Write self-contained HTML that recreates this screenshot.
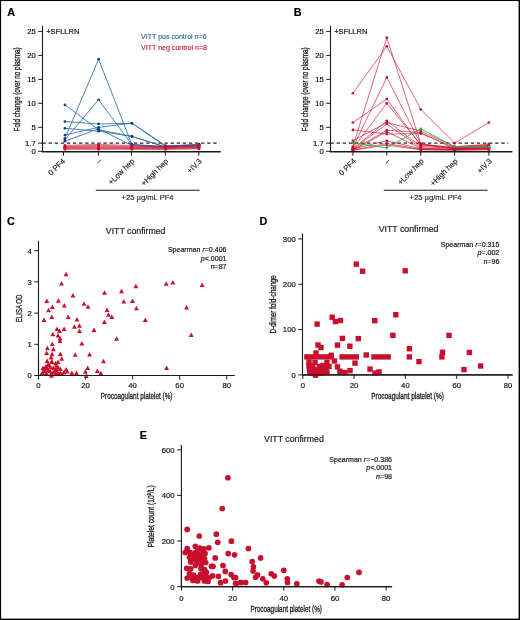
<!DOCTYPE html>
<html><head><meta charset="utf-8"><style>
html,body{margin:0;padding:0;background:#fff;width:520px;height:620px;overflow:hidden}
svg{display:block;font-family:"Liberation Sans", sans-serif;will-change:transform}
</style></head><body>
<svg width="520" height="620" viewBox="0 0 520 620">
<rect x="0" y="0" width="520" height="620" fill="#fff"/>
<text x="7.30" y="15.50" font-size="10.8" fill="#000" stroke="#000" stroke-width="0.2" font-weight="bold">A</text>
<line x1="42.50" y1="25.60" x2="42.50" y2="151.80" stroke="#1a1a1a" stroke-width="1.1"/>
<line x1="38.20" y1="151.30" x2="42.50" y2="151.30" stroke="#1a1a1a" stroke-width="1"/>
<text x="35.80" y="154.20" font-size="7.7" fill="#1a1a1a" stroke="#1a1a1a" stroke-width="0.22" text-anchor="end">0</text>
<line x1="38.20" y1="143.15" x2="42.50" y2="143.15" stroke="#1a1a1a" stroke-width="1"/>
<text x="35.80" y="146.05" font-size="7.7" fill="#1a1a1a" stroke="#1a1a1a" stroke-width="0.22" text-anchor="end">1.7</text>
<line x1="38.20" y1="127.32" x2="42.50" y2="127.32" stroke="#1a1a1a" stroke-width="1"/>
<text x="35.80" y="130.22" font-size="7.7" fill="#1a1a1a" stroke="#1a1a1a" stroke-width="0.22" text-anchor="end">5</text>
<line x1="38.20" y1="103.34" x2="42.50" y2="103.34" stroke="#1a1a1a" stroke-width="1"/>
<text x="35.80" y="106.24" font-size="7.7" fill="#1a1a1a" stroke="#1a1a1a" stroke-width="0.22" text-anchor="end">10</text>
<line x1="38.20" y1="79.36" x2="42.50" y2="79.36" stroke="#1a1a1a" stroke-width="1"/>
<text x="35.80" y="82.26" font-size="7.7" fill="#1a1a1a" stroke="#1a1a1a" stroke-width="0.22" text-anchor="end">15</text>
<line x1="38.20" y1="55.38" x2="42.50" y2="55.38" stroke="#1a1a1a" stroke-width="1"/>
<text x="35.80" y="58.28" font-size="7.7" fill="#1a1a1a" stroke="#1a1a1a" stroke-width="0.22" text-anchor="end">20</text>
<line x1="38.20" y1="31.40" x2="42.50" y2="31.40" stroke="#1a1a1a" stroke-width="1"/>
<text x="35.80" y="34.30" font-size="7.7" fill="#1a1a1a" stroke="#1a1a1a" stroke-width="0.22" text-anchor="end">25</text>
<text x="20.50" y="89.40" font-size="9.4" fill="#1a1a1a" stroke="#1a1a1a" stroke-width="0.32" text-anchor="middle" textLength="84" lengthAdjust="spacingAndGlyphs" transform="rotate(-90 20.50 89.40)">Fold change (over no plasma)</text>
<text x="46.20" y="33.50" font-size="7.5" fill="#1a1a1a" stroke="#1a1a1a" stroke-width="0.22">+SFLLRN</text>
<line x1="42.50" y1="143.20" x2="219.60" y2="143.20" stroke="#222" stroke-width="1.2" stroke-dasharray="3.3 2.8"/>
<polyline points="64.90,104.78 98.60,129.72 131.90,136.43 165.50,146.98 199.00,146.50" fill="none" stroke="#2f6ea8" stroke-width="0.85" stroke-opacity="1"/>
<polyline points="64.90,121.56 98.60,123.96 131.90,123.24 165.50,145.54 199.00,145.07" fill="none" stroke="#2f6ea8" stroke-width="0.85" stroke-opacity="1"/>
<polyline points="64.90,128.28 98.60,131.16 131.90,136.43 165.50,146.98 199.00,145.54" fill="none" stroke="#2f6ea8" stroke-width="0.85" stroke-opacity="1"/>
<polyline points="64.90,134.99 98.60,127.32 131.90,123.24 165.50,146.50 199.00,144.59" fill="none" stroke="#2f6ea8" stroke-width="0.85" stroke-opacity="1"/>
<polyline points="64.90,138.35 98.60,59.22 131.90,144.59 165.50,146.98 199.00,145.07" fill="none" stroke="#2f6ea8" stroke-width="0.85" stroke-opacity="1"/>
<polyline points="64.90,139.79 98.60,99.74 131.90,144.59 165.50,146.50 199.00,144.11" fill="none" stroke="#2f6ea8" stroke-width="0.85" stroke-opacity="1"/>
<polyline points="64.90,141.23 98.60,128.76 131.90,145.54 165.50,147.46 199.00,145.54" fill="none" stroke="#2f6ea8" stroke-width="0.85" stroke-opacity="1"/>
<polyline points="64.90,145.31 98.60,144.35 131.90,145.54 165.50,146.02 199.00,145.31" fill="none" stroke="#c8102e" stroke-width="1.0" stroke-opacity="0.55"/>
<polyline points="64.90,146.26 98.60,145.31 131.90,146.26 165.50,146.74 199.00,146.02" fill="none" stroke="#c8102e" stroke-width="1.0" stroke-opacity="0.55"/>
<polyline points="64.90,146.74 98.60,146.02 131.90,146.98 165.50,147.22 199.00,146.50" fill="none" stroke="#c8102e" stroke-width="1.0" stroke-opacity="0.55"/>
<polyline points="64.90,147.22 98.60,146.74 131.90,147.46 165.50,147.70 199.00,146.98" fill="none" stroke="#c8102e" stroke-width="1.0" stroke-opacity="0.55"/>
<polyline points="64.90,147.94 98.60,147.46 131.90,147.94 165.50,148.18 199.00,147.46" fill="none" stroke="#c8102e" stroke-width="1.0" stroke-opacity="0.55"/>
<polyline points="64.90,148.42 98.60,148.18 131.90,148.42 165.50,148.66 199.00,147.94" fill="none" stroke="#c8102e" stroke-width="1.0" stroke-opacity="0.55"/>
<polyline points="64.90,148.90 98.60,148.90 131.90,148.90 165.50,149.14 199.00,148.42" fill="none" stroke="#c8102e" stroke-width="1.0" stroke-opacity="0.55"/>
<polyline points="64.90,149.14 98.60,149.29 131.90,149.14 165.50,149.29 199.00,148.90" fill="none" stroke="#c8102e" stroke-width="1.0" stroke-opacity="0.55"/>
<circle cx="64.90" cy="104.78" r="1.35" fill="#0d3f7d"/>
<circle cx="98.60" cy="129.72" r="1.35" fill="#0d3f7d"/>
<circle cx="131.90" cy="136.43" r="1.35" fill="#0d3f7d"/>
<circle cx="165.50" cy="146.98" r="1.35" fill="#0d3f7d"/>
<circle cx="199.00" cy="146.50" r="1.35" fill="#0d3f7d"/>
<circle cx="64.90" cy="121.56" r="1.35" fill="#0d3f7d"/>
<circle cx="98.60" cy="123.96" r="1.35" fill="#0d3f7d"/>
<circle cx="131.90" cy="123.24" r="1.35" fill="#0d3f7d"/>
<circle cx="165.50" cy="145.54" r="1.35" fill="#0d3f7d"/>
<circle cx="199.00" cy="145.07" r="1.35" fill="#0d3f7d"/>
<circle cx="64.90" cy="128.28" r="1.35" fill="#0d3f7d"/>
<circle cx="98.60" cy="131.16" r="1.35" fill="#0d3f7d"/>
<circle cx="131.90" cy="136.43" r="1.35" fill="#0d3f7d"/>
<circle cx="165.50" cy="146.98" r="1.35" fill="#0d3f7d"/>
<circle cx="199.00" cy="145.54" r="1.35" fill="#0d3f7d"/>
<circle cx="64.90" cy="134.99" r="1.35" fill="#0d3f7d"/>
<circle cx="98.60" cy="127.32" r="1.35" fill="#0d3f7d"/>
<circle cx="131.90" cy="123.24" r="1.35" fill="#0d3f7d"/>
<circle cx="165.50" cy="146.50" r="1.35" fill="#0d3f7d"/>
<circle cx="199.00" cy="144.59" r="1.35" fill="#0d3f7d"/>
<circle cx="64.90" cy="138.35" r="1.35" fill="#0d3f7d"/>
<circle cx="98.60" cy="59.22" r="1.35" fill="#0d3f7d"/>
<circle cx="131.90" cy="144.59" r="1.35" fill="#0d3f7d"/>
<circle cx="165.50" cy="146.98" r="1.35" fill="#0d3f7d"/>
<circle cx="199.00" cy="145.07" r="1.35" fill="#0d3f7d"/>
<circle cx="64.90" cy="139.79" r="1.35" fill="#0d3f7d"/>
<circle cx="98.60" cy="99.74" r="1.35" fill="#0d3f7d"/>
<circle cx="131.90" cy="144.59" r="1.35" fill="#0d3f7d"/>
<circle cx="165.50" cy="146.50" r="1.35" fill="#0d3f7d"/>
<circle cx="199.00" cy="144.11" r="1.35" fill="#0d3f7d"/>
<circle cx="64.90" cy="141.23" r="1.35" fill="#0d3f7d"/>
<circle cx="98.60" cy="128.76" r="1.35" fill="#0d3f7d"/>
<circle cx="131.90" cy="145.54" r="1.35" fill="#0d3f7d"/>
<circle cx="165.50" cy="147.46" r="1.35" fill="#0d3f7d"/>
<circle cx="199.00" cy="145.54" r="1.35" fill="#0d3f7d"/>
<circle cx="64.90" cy="145.31" r="1.35" fill="#c8102e"/>
<circle cx="98.60" cy="144.35" r="1.35" fill="#c8102e"/>
<circle cx="131.90" cy="145.54" r="1.35" fill="#c8102e"/>
<circle cx="165.50" cy="146.02" r="1.35" fill="#c8102e"/>
<circle cx="199.00" cy="145.31" r="1.35" fill="#c8102e"/>
<circle cx="64.90" cy="146.26" r="1.35" fill="#c8102e"/>
<circle cx="98.60" cy="145.31" r="1.35" fill="#c8102e"/>
<circle cx="131.90" cy="146.26" r="1.35" fill="#c8102e"/>
<circle cx="165.50" cy="146.74" r="1.35" fill="#c8102e"/>
<circle cx="199.00" cy="146.02" r="1.35" fill="#c8102e"/>
<circle cx="64.90" cy="146.74" r="1.35" fill="#c8102e"/>
<circle cx="98.60" cy="146.02" r="1.35" fill="#c8102e"/>
<circle cx="131.90" cy="146.98" r="1.35" fill="#c8102e"/>
<circle cx="165.50" cy="147.22" r="1.35" fill="#c8102e"/>
<circle cx="199.00" cy="146.50" r="1.35" fill="#c8102e"/>
<circle cx="64.90" cy="147.22" r="1.35" fill="#c8102e"/>
<circle cx="98.60" cy="146.74" r="1.35" fill="#c8102e"/>
<circle cx="131.90" cy="147.46" r="1.35" fill="#c8102e"/>
<circle cx="165.50" cy="147.70" r="1.35" fill="#c8102e"/>
<circle cx="199.00" cy="146.98" r="1.35" fill="#c8102e"/>
<circle cx="64.90" cy="147.94" r="1.35" fill="#c8102e"/>
<circle cx="98.60" cy="147.46" r="1.35" fill="#c8102e"/>
<circle cx="131.90" cy="147.94" r="1.35" fill="#c8102e"/>
<circle cx="165.50" cy="148.18" r="1.35" fill="#c8102e"/>
<circle cx="199.00" cy="147.46" r="1.35" fill="#c8102e"/>
<circle cx="64.90" cy="148.42" r="1.35" fill="#c8102e"/>
<circle cx="98.60" cy="148.18" r="1.35" fill="#c8102e"/>
<circle cx="131.90" cy="148.42" r="1.35" fill="#c8102e"/>
<circle cx="165.50" cy="148.66" r="1.35" fill="#c8102e"/>
<circle cx="199.00" cy="147.94" r="1.35" fill="#c8102e"/>
<circle cx="64.90" cy="148.90" r="1.35" fill="#c8102e"/>
<circle cx="98.60" cy="148.90" r="1.35" fill="#c8102e"/>
<circle cx="131.90" cy="148.90" r="1.35" fill="#c8102e"/>
<circle cx="165.50" cy="149.14" r="1.35" fill="#c8102e"/>
<circle cx="199.00" cy="148.42" r="1.35" fill="#c8102e"/>
<circle cx="64.90" cy="149.14" r="1.35" fill="#c8102e"/>
<circle cx="98.60" cy="149.29" r="1.35" fill="#c8102e"/>
<circle cx="131.90" cy="149.14" r="1.35" fill="#c8102e"/>
<circle cx="165.50" cy="149.29" r="1.35" fill="#c8102e"/>
<circle cx="199.00" cy="148.90" r="1.35" fill="#c8102e"/>
<line x1="42.00" y1="151.80" x2="220.80" y2="151.80" stroke="#1a1a1a" stroke-width="1.5"/>
<line x1="63.50" y1="151.30" x2="63.50" y2="155.70" stroke="#1a1a1a" stroke-width="1"/>
<line x1="98.40" y1="151.30" x2="98.40" y2="155.70" stroke="#1a1a1a" stroke-width="1"/>
<line x1="131.50" y1="151.30" x2="131.50" y2="155.70" stroke="#1a1a1a" stroke-width="1"/>
<line x1="165.30" y1="151.30" x2="165.30" y2="155.70" stroke="#1a1a1a" stroke-width="1"/>
<line x1="198.80" y1="151.30" x2="198.80" y2="155.70" stroke="#1a1a1a" stroke-width="1"/>
<text x="65.70" y="161.60" font-size="7.7" fill="#1a1a1a" stroke="#1a1a1a" stroke-width="0.15" text-anchor="end" transform="rotate(-45 65.70 161.60)">0 PF4</text>
<text x="102.00" y="161.60" font-size="7.7" fill="#1a1a1a" stroke="#1a1a1a" stroke-width="0.15" text-anchor="end" transform="rotate(-45 102.00 161.60)">–</text>
<text x="135.10" y="161.60" font-size="7.7" fill="#1a1a1a" stroke="#1a1a1a" stroke-width="0.15" text-anchor="end" transform="rotate(-45 135.10 161.60)">+Low hep</text>
<text x="168.90" y="161.60" font-size="7.7" fill="#1a1a1a" stroke="#1a1a1a" stroke-width="0.15" text-anchor="end" transform="rotate(-45 168.90 161.60)">+High hep</text>
<text x="202.40" y="161.60" font-size="7.7" fill="#1a1a1a" stroke="#1a1a1a" stroke-width="0.15" text-anchor="end" transform="rotate(-45 202.40 161.60)">+IV.3</text>
<line x1="95.80" y1="190.30" x2="199.60" y2="190.30" stroke="#1a1a1a" stroke-width="1.1"/>
<text x="147.60" y="200.00" font-size="7.6" fill="#1a1a1a" stroke="#1a1a1a" stroke-width="0.12" text-anchor="middle">+25 µg/mL PF4</text>
<text x="141.10" y="38.60" font-size="7.05" fill="#2a5f95" stroke="#2a5f95" stroke-width="0.12">VITT pos control n=6</text>
<text x="141.10" y="50.00" font-size="7.05" fill="#c8102e" stroke="#c8102e" stroke-width="0.12">VITT neg control n=8</text>
<text x="293.70" y="15.50" font-size="10.8" fill="#000" stroke="#000" stroke-width="0.2" font-weight="bold">B</text>
<line x1="330.50" y1="25.60" x2="330.50" y2="151.80" stroke="#1a1a1a" stroke-width="1.1"/>
<line x1="326.20" y1="151.30" x2="330.50" y2="151.30" stroke="#1a1a1a" stroke-width="1"/>
<text x="323.80" y="154.20" font-size="7.7" fill="#1a1a1a" stroke="#1a1a1a" stroke-width="0.22" text-anchor="end">0</text>
<line x1="326.20" y1="143.15" x2="330.50" y2="143.15" stroke="#1a1a1a" stroke-width="1"/>
<text x="323.80" y="146.05" font-size="7.7" fill="#1a1a1a" stroke="#1a1a1a" stroke-width="0.22" text-anchor="end">1.7</text>
<line x1="326.20" y1="127.32" x2="330.50" y2="127.32" stroke="#1a1a1a" stroke-width="1"/>
<text x="323.80" y="130.22" font-size="7.7" fill="#1a1a1a" stroke="#1a1a1a" stroke-width="0.22" text-anchor="end">5</text>
<line x1="326.20" y1="103.34" x2="330.50" y2="103.34" stroke="#1a1a1a" stroke-width="1"/>
<text x="323.80" y="106.24" font-size="7.7" fill="#1a1a1a" stroke="#1a1a1a" stroke-width="0.22" text-anchor="end">10</text>
<line x1="326.20" y1="79.36" x2="330.50" y2="79.36" stroke="#1a1a1a" stroke-width="1"/>
<text x="323.80" y="82.26" font-size="7.7" fill="#1a1a1a" stroke="#1a1a1a" stroke-width="0.22" text-anchor="end">15</text>
<line x1="326.20" y1="55.38" x2="330.50" y2="55.38" stroke="#1a1a1a" stroke-width="1"/>
<text x="323.80" y="58.28" font-size="7.7" fill="#1a1a1a" stroke="#1a1a1a" stroke-width="0.22" text-anchor="end">20</text>
<line x1="326.20" y1="31.40" x2="330.50" y2="31.40" stroke="#1a1a1a" stroke-width="1"/>
<text x="323.80" y="34.30" font-size="7.7" fill="#1a1a1a" stroke="#1a1a1a" stroke-width="0.22" text-anchor="end">25</text>
<text x="308.50" y="89.40" font-size="9.4" fill="#1a1a1a" stroke="#1a1a1a" stroke-width="0.32" text-anchor="middle" textLength="84" lengthAdjust="spacingAndGlyphs" transform="rotate(-90 308.50 89.40)">Fold change (over no plasma)</text>
<text x="334.20" y="33.50" font-size="7.5" fill="#1a1a1a" stroke="#1a1a1a" stroke-width="0.22">+SFLLRN</text>
<line x1="330.50" y1="143.20" x2="508.30" y2="143.20" stroke="#222" stroke-width="1.2" stroke-dasharray="3.3 2.8"/>
<polyline points="352.90,93.27 386.80,46.27 420.80,109.34 454.60,143.15 488.90,122.52" fill="none" stroke="#c8102e" stroke-width="0.8" stroke-opacity="0.8"/>
<polyline points="352.90,122.52 386.80,99.02 420.80,145.54 454.60,146.98 488.90,144.11" fill="none" stroke="#c8102e" stroke-width="0.8" stroke-opacity="0.8"/>
<polyline points="352.90,129.96 386.80,134.03 420.80,133.55 454.60,147.46 488.90,145.54" fill="none" stroke="#c8102e" stroke-width="0.8" stroke-opacity="0.8"/>
<polyline points="352.90,140.75 386.80,122.52 420.80,131.16 454.60,146.50 488.90,145.07" fill="none" stroke="#c8102e" stroke-width="0.8" stroke-opacity="0.8"/>
<polyline points="352.90,146.50 386.80,37.63 420.80,143.63 454.60,148.42 488.90,146.50" fill="none" stroke="#c8102e" stroke-width="0.8" stroke-opacity="0.8"/>
<polyline points="352.90,147.46 386.80,77.44 420.80,144.11 454.60,147.94 488.90,146.98" fill="none" stroke="#c8102e" stroke-width="0.8" stroke-opacity="0.8"/>
<polyline points="352.90,148.42 386.80,103.34 420.80,144.59 454.60,148.90 488.90,147.46" fill="none" stroke="#c8102e" stroke-width="0.8" stroke-opacity="0.8"/>
<polyline points="352.90,148.90 386.80,120.85 420.80,146.50 454.60,148.42 488.90,147.94" fill="none" stroke="#c8102e" stroke-width="0.8" stroke-opacity="0.8"/>
<polyline points="352.90,149.38 386.80,123.96 420.80,147.94 454.60,149.38 488.90,146.02" fill="none" stroke="#c8102e" stroke-width="0.8" stroke-opacity="0.8"/>
<polyline points="352.90,149.86 386.80,130.20 420.80,132.60 454.60,148.90 488.90,148.42" fill="none" stroke="#c8102e" stroke-width="0.8" stroke-opacity="0.8"/>
<polyline points="352.90,150.34 386.80,131.64 420.80,148.42 454.60,149.86 488.90,148.90" fill="none" stroke="#c8102e" stroke-width="0.8" stroke-opacity="0.8"/>
<polyline points="352.90,148.90 386.80,140.75 420.80,148.90 454.60,149.38 488.90,148.42" fill="none" stroke="#c8102e" stroke-width="0.8" stroke-opacity="0.8"/>
<polyline points="352.90,149.86 386.80,143.63 420.80,149.38 454.60,149.86 488.90,149.38" fill="none" stroke="#c8102e" stroke-width="0.8" stroke-opacity="0.8"/>
<polyline points="352.90,150.34 386.80,145.07 420.80,149.86 454.60,150.34 488.90,149.86" fill="none" stroke="#c8102e" stroke-width="0.8" stroke-opacity="0.8"/>
<polyline points="352.90,142.81 386.80,147.94 420.80,128.76 454.60,146.74 488.90,147.22" fill="none" stroke="#22b04a" stroke-width="0.9" stroke-opacity="1"/>
<circle cx="352.90" cy="93.27" r="1.35" fill="#c8102e"/>
<circle cx="386.80" cy="46.27" r="1.35" fill="#c8102e"/>
<circle cx="420.80" cy="109.34" r="1.35" fill="#c8102e"/>
<circle cx="454.60" cy="143.15" r="1.35" fill="#c8102e"/>
<circle cx="488.90" cy="122.52" r="1.35" fill="#c8102e"/>
<circle cx="352.90" cy="122.52" r="1.35" fill="#c8102e"/>
<circle cx="386.80" cy="99.02" r="1.35" fill="#c8102e"/>
<circle cx="420.80" cy="145.54" r="1.35" fill="#c8102e"/>
<circle cx="454.60" cy="146.98" r="1.35" fill="#c8102e"/>
<circle cx="488.90" cy="144.11" r="1.35" fill="#c8102e"/>
<circle cx="352.90" cy="129.96" r="1.35" fill="#c8102e"/>
<circle cx="386.80" cy="134.03" r="1.35" fill="#c8102e"/>
<circle cx="420.80" cy="133.55" r="1.35" fill="#c8102e"/>
<circle cx="454.60" cy="147.46" r="1.35" fill="#c8102e"/>
<circle cx="488.90" cy="145.54" r="1.35" fill="#c8102e"/>
<circle cx="352.90" cy="140.75" r="1.35" fill="#c8102e"/>
<circle cx="386.80" cy="122.52" r="1.35" fill="#c8102e"/>
<circle cx="420.80" cy="131.16" r="1.35" fill="#c8102e"/>
<circle cx="454.60" cy="146.50" r="1.35" fill="#c8102e"/>
<circle cx="488.90" cy="145.07" r="1.35" fill="#c8102e"/>
<circle cx="352.90" cy="146.50" r="1.35" fill="#c8102e"/>
<circle cx="386.80" cy="37.63" r="1.35" fill="#c8102e"/>
<circle cx="420.80" cy="143.63" r="1.35" fill="#c8102e"/>
<circle cx="454.60" cy="148.42" r="1.35" fill="#c8102e"/>
<circle cx="488.90" cy="146.50" r="1.35" fill="#c8102e"/>
<circle cx="352.90" cy="147.46" r="1.35" fill="#c8102e"/>
<circle cx="386.80" cy="77.44" r="1.35" fill="#c8102e"/>
<circle cx="420.80" cy="144.11" r="1.35" fill="#c8102e"/>
<circle cx="454.60" cy="147.94" r="1.35" fill="#c8102e"/>
<circle cx="488.90" cy="146.98" r="1.35" fill="#c8102e"/>
<circle cx="352.90" cy="148.42" r="1.35" fill="#c8102e"/>
<circle cx="386.80" cy="103.34" r="1.35" fill="#c8102e"/>
<circle cx="420.80" cy="144.59" r="1.35" fill="#c8102e"/>
<circle cx="454.60" cy="148.90" r="1.35" fill="#c8102e"/>
<circle cx="488.90" cy="147.46" r="1.35" fill="#c8102e"/>
<circle cx="352.90" cy="148.90" r="1.35" fill="#c8102e"/>
<circle cx="386.80" cy="120.85" r="1.35" fill="#c8102e"/>
<circle cx="420.80" cy="146.50" r="1.35" fill="#c8102e"/>
<circle cx="454.60" cy="148.42" r="1.35" fill="#c8102e"/>
<circle cx="488.90" cy="147.94" r="1.35" fill="#c8102e"/>
<circle cx="352.90" cy="149.38" r="1.35" fill="#c8102e"/>
<circle cx="386.80" cy="123.96" r="1.35" fill="#c8102e"/>
<circle cx="420.80" cy="147.94" r="1.35" fill="#c8102e"/>
<circle cx="454.60" cy="149.38" r="1.35" fill="#c8102e"/>
<circle cx="488.90" cy="146.02" r="1.35" fill="#c8102e"/>
<circle cx="352.90" cy="149.86" r="1.35" fill="#c8102e"/>
<circle cx="386.80" cy="130.20" r="1.35" fill="#c8102e"/>
<circle cx="420.80" cy="132.60" r="1.35" fill="#c8102e"/>
<circle cx="454.60" cy="148.90" r="1.35" fill="#c8102e"/>
<circle cx="488.90" cy="148.42" r="1.35" fill="#c8102e"/>
<circle cx="352.90" cy="150.34" r="1.35" fill="#c8102e"/>
<circle cx="386.80" cy="131.64" r="1.35" fill="#c8102e"/>
<circle cx="420.80" cy="148.42" r="1.35" fill="#c8102e"/>
<circle cx="454.60" cy="149.86" r="1.35" fill="#c8102e"/>
<circle cx="488.90" cy="148.90" r="1.35" fill="#c8102e"/>
<circle cx="352.90" cy="148.90" r="1.35" fill="#c8102e"/>
<circle cx="386.80" cy="140.75" r="1.35" fill="#c8102e"/>
<circle cx="420.80" cy="148.90" r="1.35" fill="#c8102e"/>
<circle cx="454.60" cy="149.38" r="1.35" fill="#c8102e"/>
<circle cx="488.90" cy="148.42" r="1.35" fill="#c8102e"/>
<circle cx="352.90" cy="149.86" r="1.35" fill="#c8102e"/>
<circle cx="386.80" cy="143.63" r="1.35" fill="#c8102e"/>
<circle cx="420.80" cy="149.38" r="1.35" fill="#c8102e"/>
<circle cx="454.60" cy="149.86" r="1.35" fill="#c8102e"/>
<circle cx="488.90" cy="149.38" r="1.35" fill="#c8102e"/>
<circle cx="352.90" cy="150.34" r="1.35" fill="#c8102e"/>
<circle cx="386.80" cy="145.07" r="1.35" fill="#c8102e"/>
<circle cx="420.80" cy="149.86" r="1.35" fill="#c8102e"/>
<circle cx="454.60" cy="150.34" r="1.35" fill="#c8102e"/>
<circle cx="488.90" cy="149.86" r="1.35" fill="#c8102e"/>
<circle cx="352.90" cy="142.81" r="1.35" fill="#22b04a"/>
<circle cx="386.80" cy="147.94" r="1.35" fill="#22b04a"/>
<circle cx="420.80" cy="128.76" r="1.35" fill="#22b04a"/>
<circle cx="454.60" cy="146.74" r="1.35" fill="#22b04a"/>
<circle cx="488.90" cy="147.22" r="1.35" fill="#22b04a"/>
<line x1="330.00" y1="151.80" x2="512.40" y2="151.80" stroke="#1a1a1a" stroke-width="1.5"/>
<line x1="352.90" y1="151.30" x2="352.90" y2="155.70" stroke="#1a1a1a" stroke-width="1"/>
<line x1="386.80" y1="151.30" x2="386.80" y2="155.70" stroke="#1a1a1a" stroke-width="1"/>
<line x1="420.80" y1="151.30" x2="420.80" y2="155.70" stroke="#1a1a1a" stroke-width="1"/>
<line x1="454.60" y1="151.30" x2="454.60" y2="155.70" stroke="#1a1a1a" stroke-width="1"/>
<line x1="488.90" y1="151.30" x2="488.90" y2="155.70" stroke="#1a1a1a" stroke-width="1"/>
<text x="356.50" y="161.60" font-size="7.7" fill="#1a1a1a" stroke="#1a1a1a" stroke-width="0.15" text-anchor="end" transform="rotate(-45 356.50 161.60)">0 PF4</text>
<text x="390.40" y="161.60" font-size="7.7" fill="#1a1a1a" stroke="#1a1a1a" stroke-width="0.15" text-anchor="end" transform="rotate(-45 390.40 161.60)">–</text>
<text x="424.40" y="161.60" font-size="7.7" fill="#1a1a1a" stroke="#1a1a1a" stroke-width="0.15" text-anchor="end" transform="rotate(-45 424.40 161.60)">+Low hep</text>
<text x="458.20" y="161.60" font-size="7.7" fill="#1a1a1a" stroke="#1a1a1a" stroke-width="0.15" text-anchor="end" transform="rotate(-45 458.20 161.60)">+High hep</text>
<text x="492.50" y="161.60" font-size="7.7" fill="#1a1a1a" stroke="#1a1a1a" stroke-width="0.15" text-anchor="end" transform="rotate(-45 492.50 161.60)">+IV.3</text>
<line x1="383.80" y1="190.30" x2="487.60" y2="190.30" stroke="#1a1a1a" stroke-width="1.1"/>
<text x="435.60" y="200.00" font-size="7.6" fill="#1a1a1a" stroke="#1a1a1a" stroke-width="0.12" text-anchor="middle">+25 µg/mL PF4</text>
<text x="6.90" y="224.90" font-size="10.8" fill="#000" stroke="#000" stroke-width="0.2" font-weight="bold">C</text>
<line x1="38.50" y1="240.80" x2="38.50" y2="376.00" stroke="#1a1a1a" stroke-width="1.1"/>
<line x1="34.30" y1="375.50" x2="38.50" y2="375.50" stroke="#1a1a1a" stroke-width="1"/>
<text x="31.70" y="378.40" font-size="7.7" fill="#1a1a1a" stroke="#1a1a1a" stroke-width="0.22" text-anchor="end">0</text>
<line x1="34.30" y1="344.30" x2="38.50" y2="344.30" stroke="#1a1a1a" stroke-width="1"/>
<text x="31.70" y="347.20" font-size="7.7" fill="#1a1a1a" stroke="#1a1a1a" stroke-width="0.22" text-anchor="end">1</text>
<line x1="34.30" y1="313.10" x2="38.50" y2="313.10" stroke="#1a1a1a" stroke-width="1"/>
<text x="31.70" y="316.00" font-size="7.7" fill="#1a1a1a" stroke="#1a1a1a" stroke-width="0.22" text-anchor="end">2</text>
<line x1="34.30" y1="281.90" x2="38.50" y2="281.90" stroke="#1a1a1a" stroke-width="1"/>
<text x="31.70" y="284.80" font-size="7.7" fill="#1a1a1a" stroke="#1a1a1a" stroke-width="0.22" text-anchor="end">3</text>
<line x1="34.30" y1="250.70" x2="38.50" y2="250.70" stroke="#1a1a1a" stroke-width="1"/>
<text x="31.70" y="253.60" font-size="7.7" fill="#1a1a1a" stroke="#1a1a1a" stroke-width="0.22" text-anchor="end">4</text>
<line x1="38.00" y1="375.50" x2="234.60" y2="375.50" stroke="#1a1a1a" stroke-width="1.2"/>
<line x1="38.50" y1="375.50" x2="38.50" y2="379.50" stroke="#1a1a1a" stroke-width="1"/>
<text x="38.50" y="388.30" font-size="7.7" fill="#1a1a1a" stroke="#1a1a1a" stroke-width="0.22" text-anchor="middle">0</text>
<line x1="85.55" y1="375.50" x2="85.55" y2="379.50" stroke="#1a1a1a" stroke-width="1"/>
<text x="85.55" y="388.30" font-size="7.7" fill="#1a1a1a" stroke="#1a1a1a" stroke-width="0.22" text-anchor="middle">20</text>
<line x1="132.60" y1="375.50" x2="132.60" y2="379.50" stroke="#1a1a1a" stroke-width="1"/>
<text x="132.60" y="388.30" font-size="7.7" fill="#1a1a1a" stroke="#1a1a1a" stroke-width="0.22" text-anchor="middle">40</text>
<line x1="179.65" y1="375.50" x2="179.65" y2="379.50" stroke="#1a1a1a" stroke-width="1"/>
<text x="179.65" y="388.30" font-size="7.7" fill="#1a1a1a" stroke="#1a1a1a" stroke-width="0.22" text-anchor="middle">60</text>
<line x1="226.70" y1="375.50" x2="226.70" y2="379.50" stroke="#1a1a1a" stroke-width="1"/>
<text x="226.70" y="388.30" font-size="7.7" fill="#1a1a1a" stroke="#1a1a1a" stroke-width="0.22" text-anchor="middle">80</text>
<text x="21.80" y="308.40" font-size="9.6" fill="#1a1a1a" stroke="#1a1a1a" stroke-width="0.32" text-anchor="middle" textLength="27.6" lengthAdjust="spacingAndGlyphs" transform="rotate(-90 21.80 308.40)">ELISA OD</text>
<text x="136.65" y="399.00" font-size="9.6" fill="#1a1a1a" stroke="#1a1a1a" stroke-width="0.32" text-anchor="middle" textLength="71.7" lengthAdjust="spacingAndGlyphs">Procoagulant platelet (%)</text>
<text x="105.80" y="233.90" font-size="8.75" fill="#1a1a1a" stroke="#1a1a1a" stroke-width="0.18">VITT confirmed</text>
<text x="226.50" y="252.30" font-size="7.05" fill="#1a1a1a" stroke="#1a1a1a" stroke-width="0.2" text-anchor="end">Spearman <tspan font-style="italic">r</tspan>=0.406</text>
<text x="226.50" y="260.80" font-size="7.05" fill="#1a1a1a" stroke="#1a1a1a" stroke-width="0.2" text-anchor="end"><tspan font-style="italic">p</tspan>&lt;.0001</text>
<text x="226.50" y="269.20" font-size="7.05" fill="#1a1a1a" stroke="#1a1a1a" stroke-width="0.2" text-anchor="end">n=87</text>
<path d="M66.10 271.80L68.55 276.30L63.65 276.30Z" fill="#c8102e"/>
<path d="M61.50 280.90L63.95 285.40L59.05 285.40Z" fill="#c8102e"/>
<path d="M73.00 293.00L75.45 297.50L70.55 297.50Z" fill="#c8102e"/>
<path d="M46.80 298.40L49.25 302.90L44.35 302.90Z" fill="#c8102e"/>
<path d="M58.40 298.20L60.85 302.70L55.95 302.70Z" fill="#c8102e"/>
<path d="M64.30 303.00L66.75 307.50L61.85 307.50Z" fill="#c8102e"/>
<path d="M52.30 304.60L54.75 309.10L49.85 309.10Z" fill="#c8102e"/>
<path d="M84.00 301.20L86.45 305.70L81.55 305.70Z" fill="#c8102e"/>
<path d="M88.00 304.30L90.45 308.80L85.55 308.80Z" fill="#c8102e"/>
<path d="M48.50 307.70L50.95 312.20L46.05 312.20Z" fill="#c8102e"/>
<path d="M104.50 290.15L106.95 294.65L102.05 294.65Z" fill="#c8102e"/>
<path d="M121.50 288.65L123.95 293.15L119.05 293.15Z" fill="#c8102e"/>
<path d="M135.90 283.65L138.35 288.15L133.45 288.15Z" fill="#c8102e"/>
<path d="M123.75 298.90L126.20 303.40L121.30 303.40Z" fill="#c8102e"/>
<path d="M132.50 298.40L134.95 302.90L130.05 302.90Z" fill="#c8102e"/>
<path d="M136.50 305.80L138.95 310.30L134.05 310.30Z" fill="#c8102e"/>
<path d="M107.10 307.50L109.55 312.00L104.65 312.00Z" fill="#c8102e"/>
<path d="M166.25 281.15L168.70 285.65L163.80 285.65Z" fill="#c8102e"/>
<path d="M172.90 279.90L175.35 284.40L170.45 284.40Z" fill="#c8102e"/>
<path d="M202.10 282.40L204.55 286.90L199.65 286.90Z" fill="#c8102e"/>
<path d="M186.60 305.00L189.05 309.50L184.15 309.50Z" fill="#c8102e"/>
<path d="M191.25 332.40L193.70 336.90L188.80 336.90Z" fill="#c8102e"/>
<path d="M166.60 365.50L169.05 370.00L164.15 370.00Z" fill="#c8102e"/>
<path d="M108.50 312.15L110.95 316.65L106.05 316.65Z" fill="#c8102e"/>
<path d="M111.80 314.40L114.25 318.90L109.35 318.90Z" fill="#c8102e"/>
<path d="M104.40 319.40L106.85 323.90L101.95 323.90Z" fill="#c8102e"/>
<path d="M145.30 317.40L147.75 321.90L142.85 321.90Z" fill="#c8102e"/>
<path d="M116.60 336.15L119.05 340.65L114.15 340.65Z" fill="#c8102e"/>
<path d="M103.50 358.70L105.95 363.20L101.05 363.20Z" fill="#c8102e"/>
<path d="M44.00 317.40L46.45 321.90L41.55 321.90Z" fill="#c8102e"/>
<path d="M51.80 314.50L54.25 319.00L49.35 319.00Z" fill="#c8102e"/>
<path d="M68.30 314.50L70.75 319.00L65.85 319.00Z" fill="#c8102e"/>
<path d="M77.00 317.10L79.45 321.60L74.55 321.60Z" fill="#c8102e"/>
<path d="M74.40 324.30L76.85 328.80L71.95 328.80Z" fill="#c8102e"/>
<path d="M79.50 323.30L81.95 327.80L77.05 327.80Z" fill="#c8102e"/>
<path d="M79.50 328.40L81.95 332.90L77.05 332.90Z" fill="#c8102e"/>
<path d="M94.00 327.60L96.45 332.10L91.55 332.10Z" fill="#c8102e"/>
<path d="M57.00 326.50L59.45 331.00L54.55 331.00Z" fill="#c8102e"/>
<path d="M59.50 328.40L61.95 332.90L57.05 332.90Z" fill="#c8102e"/>
<path d="M64.10 326.50L66.55 331.00L61.65 331.00Z" fill="#c8102e"/>
<path d="M52.90 331.70L55.35 336.20L50.45 336.20Z" fill="#c8102e"/>
<path d="M58.00 332.90L60.45 337.40L55.55 337.40Z" fill="#c8102e"/>
<path d="M60.00 335.80L62.45 340.30L57.55 340.30Z" fill="#c8102e"/>
<path d="M60.00 338.60L62.45 343.10L57.55 343.10Z" fill="#c8102e"/>
<path d="M52.30 341.40L54.75 345.90L49.85 345.90Z" fill="#c8102e"/>
<path d="M81.80 341.10L84.25 345.60L79.35 345.60Z" fill="#c8102e"/>
<path d="M47.40 345.80L49.85 350.30L44.95 350.30Z" fill="#c8102e"/>
<path d="M53.40 346.80L55.85 351.30L50.95 351.30Z" fill="#c8102e"/>
<path d="M46.60 350.60L49.05 355.10L44.15 355.10Z" fill="#c8102e"/>
<path d="M52.10 351.70L54.55 356.20L49.65 356.20Z" fill="#c8102e"/>
<path d="M60.30 351.40L62.75 355.90L57.85 355.90Z" fill="#c8102e"/>
<path d="M75.20 352.20L77.65 356.70L72.75 356.70Z" fill="#c8102e"/>
<path d="M51.10 355.00L53.55 359.50L48.65 359.50Z" fill="#c8102e"/>
<path d="M61.70 356.20L64.15 360.70L59.25 360.70Z" fill="#c8102e"/>
<path d="M47.10 358.50L49.55 363.00L44.65 363.00Z" fill="#c8102e"/>
<path d="M51.80 358.90L54.25 363.40L49.35 363.40Z" fill="#c8102e"/>
<path d="M55.70 360.80L58.15 365.30L53.25 365.30Z" fill="#c8102e"/>
<path d="M48.00 361.90L50.45 366.40L45.55 366.40Z" fill="#c8102e"/>
<path d="M56.50 363.10L58.95 367.60L54.05 367.60Z" fill="#c8102e"/>
<path d="M45.70 364.20L48.15 368.70L43.25 368.70Z" fill="#c8102e"/>
<path d="M50.30 364.60L52.75 369.10L47.85 369.10Z" fill="#c8102e"/>
<path d="M53.40 365.40L55.85 369.90L50.95 369.90Z" fill="#c8102e"/>
<path d="M60.30 366.60L62.75 371.10L57.85 371.10Z" fill="#c8102e"/>
<path d="M66.10 366.90L68.55 371.40L63.65 371.40Z" fill="#c8102e"/>
<path d="M44.20 366.90L46.65 371.40L41.75 371.40Z" fill="#c8102e"/>
<path d="M48.00 367.70L50.45 372.20L45.55 372.20Z" fill="#c8102e"/>
<path d="M55.70 367.70L58.15 372.20L53.25 372.20Z" fill="#c8102e"/>
<path d="M67.20 368.90L69.65 373.40L64.75 373.40Z" fill="#c8102e"/>
<path d="M71.80 370.40L74.25 374.90L69.35 374.90Z" fill="#c8102e"/>
<path d="M76.50 370.60L78.95 375.10L74.05 375.10Z" fill="#c8102e"/>
<path d="M42.60 370.40L45.05 374.90L40.15 374.90Z" fill="#c8102e"/>
<path d="M46.50 370.80L48.95 375.30L44.05 375.30Z" fill="#c8102e"/>
<path d="M51.10 371.60L53.55 376.10L48.65 376.10Z" fill="#c8102e"/>
<path d="M58.00 370.80L60.45 375.30L55.55 375.30Z" fill="#c8102e"/>
<path d="M60.30 370.40L62.75 374.90L57.85 374.90Z" fill="#c8102e"/>
<path d="M55.70 370.40L58.15 374.90L53.25 374.90Z" fill="#c8102e"/>
<path d="M89.60 351.90L92.05 356.40L87.15 356.40Z" fill="#c8102e"/>
<path d="M87.70 365.40L90.15 369.90L85.25 369.90Z" fill="#c8102e"/>
<path d="M85.40 369.20L87.85 373.70L82.95 373.70Z" fill="#c8102e"/>
<path d="M97.30 368.50L99.75 373.00L94.85 373.00Z" fill="#c8102e"/>
<path d="M100.80 370.80L103.25 375.30L98.35 375.30Z" fill="#c8102e"/>
<path d="M86.20 373.40L88.65 377.90L83.75 377.90Z" fill="#c8102e"/>
<path d="M44.00 368.40L46.45 372.90L41.55 372.90Z" fill="#c8102e"/>
<path d="M47.00 365.40L49.45 369.90L44.55 369.90Z" fill="#c8102e"/>
<path d="M50.00 368.40L52.45 372.90L47.55 372.90Z" fill="#c8102e"/>
<path d="M53.00 369.90L55.45 374.40L50.55 374.40Z" fill="#c8102e"/>
<path d="M56.00 366.40L58.45 370.90L53.55 370.90Z" fill="#c8102e"/>
<path d="M49.00 362.40L51.45 366.90L46.55 366.90Z" fill="#c8102e"/>
<path d="M52.00 359.40L54.45 363.90L49.55 363.90Z" fill="#c8102e"/>
<path d="M58.00 359.40L60.45 363.90L55.55 363.90Z" fill="#c8102e"/>
<path d="M64.00 369.90L66.45 374.40L61.55 374.40Z" fill="#c8102e"/>
<path d="M62.00 371.40L64.45 375.90L59.55 375.90Z" fill="#c8102e"/>
<path d="M41.50 371.40L43.95 375.90L39.05 375.90Z" fill="#c8102e"/>
<path d="M43.00 365.40L45.45 369.90L40.55 369.90Z" fill="#c8102e"/>
<path d="M58.00 364.90L60.45 369.40L55.55 369.40Z" fill="#c8102e"/>
<path d="M51.50 373.20L53.95 377.70L49.05 377.70Z" fill="#c8102e"/>
<line x1="38.00" y1="375.50" x2="234.60" y2="375.50" stroke="#1a1a1a" stroke-width="1.2"/>
<line x1="38.50" y1="360.00" x2="38.50" y2="376.00" stroke="#1a1a1a" stroke-width="1.1"/>
<text x="259.40" y="225.00" font-size="10.8" fill="#000" stroke="#000" stroke-width="0.2" font-weight="bold">D</text>
<line x1="302.50" y1="233.50" x2="302.50" y2="375.40" stroke="#1a1a1a" stroke-width="1.1"/>
<line x1="298.30" y1="374.90" x2="302.50" y2="374.90" stroke="#1a1a1a" stroke-width="1"/>
<text x="295.70" y="377.80" font-size="7.7" fill="#1a1a1a" stroke="#1a1a1a" stroke-width="0.22" text-anchor="end">0</text>
<line x1="298.30" y1="329.57" x2="302.50" y2="329.57" stroke="#1a1a1a" stroke-width="1"/>
<text x="295.70" y="332.47" font-size="7.7" fill="#1a1a1a" stroke="#1a1a1a" stroke-width="0.22" text-anchor="end">100</text>
<line x1="298.30" y1="284.24" x2="302.50" y2="284.24" stroke="#1a1a1a" stroke-width="1"/>
<text x="295.70" y="287.14" font-size="7.7" fill="#1a1a1a" stroke="#1a1a1a" stroke-width="0.22" text-anchor="end">200</text>
<line x1="298.30" y1="238.91" x2="302.50" y2="238.91" stroke="#1a1a1a" stroke-width="1"/>
<text x="295.70" y="241.81" font-size="7.7" fill="#1a1a1a" stroke="#1a1a1a" stroke-width="0.22" text-anchor="end">300</text>
<line x1="302.00" y1="374.90" x2="512.60" y2="374.90" stroke="#1a1a1a" stroke-width="1.2"/>
<line x1="302.80" y1="374.90" x2="302.80" y2="378.90" stroke="#1a1a1a" stroke-width="1"/>
<text x="302.80" y="387.70" font-size="7.7" fill="#1a1a1a" stroke="#1a1a1a" stroke-width="0.22" text-anchor="middle">0</text>
<line x1="354.10" y1="374.90" x2="354.10" y2="378.90" stroke="#1a1a1a" stroke-width="1"/>
<text x="354.10" y="387.70" font-size="7.7" fill="#1a1a1a" stroke="#1a1a1a" stroke-width="0.22" text-anchor="middle">20</text>
<line x1="405.40" y1="374.90" x2="405.40" y2="378.90" stroke="#1a1a1a" stroke-width="1"/>
<text x="405.40" y="387.70" font-size="7.7" fill="#1a1a1a" stroke="#1a1a1a" stroke-width="0.22" text-anchor="middle">40</text>
<line x1="456.70" y1="374.90" x2="456.70" y2="378.90" stroke="#1a1a1a" stroke-width="1"/>
<text x="456.70" y="387.70" font-size="7.7" fill="#1a1a1a" stroke="#1a1a1a" stroke-width="0.22" text-anchor="middle">60</text>
<line x1="508.00" y1="374.90" x2="508.00" y2="378.90" stroke="#1a1a1a" stroke-width="1"/>
<text x="508.00" y="387.70" font-size="7.7" fill="#1a1a1a" stroke="#1a1a1a" stroke-width="0.22" text-anchor="middle">80</text>
<text x="275.90" y="304.45" font-size="9.6" fill="#1a1a1a" stroke="#1a1a1a" stroke-width="0.32" text-anchor="middle" textLength="58.2" lengthAdjust="spacingAndGlyphs" transform="rotate(-90 275.90 304.45)">D-dimer fold-change</text>
<text x="407.55" y="398.70" font-size="9.6" fill="#1a1a1a" stroke="#1a1a1a" stroke-width="0.32" text-anchor="middle" textLength="72.69999999999999" lengthAdjust="spacingAndGlyphs">Procoagulant platelet (%)</text>
<text x="378.75" y="231.80" font-size="8.75" fill="#1a1a1a" stroke="#1a1a1a" stroke-width="0.18">VITT confirmed</text>
<text x="499.30" y="246.50" font-size="7.05" fill="#1a1a1a" stroke="#1a1a1a" stroke-width="0.2" text-anchor="end">Spearman <tspan font-style="italic">r</tspan>=0.315</text>
<text x="499.30" y="255.30" font-size="7.05" fill="#1a1a1a" stroke="#1a1a1a" stroke-width="0.2" text-anchor="end"><tspan font-style="italic">p</tspan>=.002</text>
<text x="499.30" y="263.80" font-size="7.05" fill="#1a1a1a" stroke="#1a1a1a" stroke-width="0.2" text-anchor="end">n=96</text>
<rect x="304.20" y="354.20" width="29.30" height="5.4" fill="#c8102e"/>
<rect x="339.40" y="354.20" width="19.60" height="5.4" fill="#c8102e"/>
<rect x="371.25" y="354.20" width="19.65" height="5.4" fill="#c8102e"/>
<rect x="353.60" y="261.50" width="5.4" height="5.4" fill="#c8102e"/>
<rect x="359.90" y="268.50" width="5.4" height="5.4" fill="#c8102e"/>
<rect x="402.50" y="268.10" width="5.4" height="5.4" fill="#c8102e"/>
<rect x="393.10" y="312.00" width="5.4" height="5.4" fill="#c8102e"/>
<rect x="372.10" y="318.00" width="5.4" height="5.4" fill="#c8102e"/>
<rect x="337.80" y="317.80" width="5.4" height="5.4" fill="#c8102e"/>
<rect x="332.70" y="318.90" width="5.4" height="5.4" fill="#c8102e"/>
<rect x="329.50" y="314.50" width="5.4" height="5.4" fill="#c8102e"/>
<rect x="314.40" y="321.40" width="5.4" height="5.4" fill="#c8102e"/>
<rect x="339.70" y="335.70" width="5.4" height="5.4" fill="#c8102e"/>
<rect x="355.60" y="335.90" width="5.4" height="5.4" fill="#c8102e"/>
<rect x="334.80" y="342.40" width="5.4" height="5.4" fill="#c8102e"/>
<rect x="347.20" y="343.50" width="5.4" height="5.4" fill="#c8102e"/>
<rect x="390.20" y="332.60" width="5.4" height="5.4" fill="#c8102e"/>
<rect x="446.30" y="332.70" width="5.4" height="5.4" fill="#c8102e"/>
<rect x="406.70" y="346.05" width="5.4" height="5.4" fill="#c8102e"/>
<rect x="406.70" y="354.20" width="5.4" height="5.4" fill="#c8102e"/>
<rect x="416.30" y="358.90" width="5.4" height="5.4" fill="#c8102e"/>
<rect x="439.80" y="349.55" width="5.4" height="5.4" fill="#c8102e"/>
<rect x="439.20" y="354.20" width="5.4" height="5.4" fill="#c8102e"/>
<rect x="466.70" y="349.80" width="5.4" height="5.4" fill="#c8102e"/>
<rect x="477.90" y="363.30" width="5.4" height="5.4" fill="#c8102e"/>
<rect x="461.30" y="366.90" width="5.4" height="5.4" fill="#c8102e"/>
<rect x="315.30" y="342.30" width="5.4" height="5.4" fill="#c8102e"/>
<rect x="318.30" y="344.80" width="5.4" height="5.4" fill="#c8102e"/>
<rect x="313.30" y="350.30" width="5.4" height="5.4" fill="#c8102e"/>
<rect x="328.60" y="352.60" width="5.4" height="5.4" fill="#c8102e"/>
<rect x="363.55" y="352.30" width="5.4" height="5.4" fill="#c8102e"/>
<rect x="352.30" y="360.40" width="5.4" height="5.4" fill="#c8102e"/>
<rect x="331.80" y="358.30" width="5.4" height="5.4" fill="#c8102e"/>
<rect x="334.80" y="364.20" width="5.4" height="5.4" fill="#c8102e"/>
<rect x="337.30" y="368.55" width="5.4" height="5.4" fill="#c8102e"/>
<rect x="342.30" y="369.80" width="5.4" height="5.4" fill="#c8102e"/>
<rect x="347.30" y="367.90" width="5.4" height="5.4" fill="#c8102e"/>
<rect x="367.30" y="366.40" width="5.4" height="5.4" fill="#c8102e"/>
<rect x="372.30" y="370.40" width="5.4" height="5.4" fill="#c8102e"/>
<rect x="376.30" y="369.20" width="5.4" height="5.4" fill="#c8102e"/>
<rect x="306.30" y="359.30" width="5.4" height="5.4" fill="#c8102e"/>
<rect x="312.30" y="359.80" width="5.4" height="5.4" fill="#c8102e"/>
<rect x="324.30" y="359.80" width="5.4" height="5.4" fill="#c8102e"/>
<rect x="306.30" y="363.30" width="5.4" height="5.4" fill="#c8102e"/>
<rect x="309.80" y="363.30" width="5.4" height="5.4" fill="#c8102e"/>
<rect x="316.80" y="363.80" width="5.4" height="5.4" fill="#c8102e"/>
<rect x="320.30" y="362.80" width="5.4" height="5.4" fill="#c8102e"/>
<rect x="322.30" y="364.30" width="5.4" height="5.4" fill="#c8102e"/>
<rect x="326.30" y="363.80" width="5.4" height="5.4" fill="#c8102e"/>
<rect x="306.80" y="367.30" width="5.4" height="5.4" fill="#c8102e"/>
<rect x="310.30" y="367.30" width="5.4" height="5.4" fill="#c8102e"/>
<rect x="313.80" y="366.80" width="5.4" height="5.4" fill="#c8102e"/>
<rect x="318.30" y="367.80" width="5.4" height="5.4" fill="#c8102e"/>
<rect x="323.30" y="367.80" width="5.4" height="5.4" fill="#c8102e"/>
<rect x="307.30" y="370.30" width="5.4" height="5.4" fill="#c8102e"/>
<rect x="311.30" y="370.30" width="5.4" height="5.4" fill="#c8102e"/>
<rect x="315.30" y="370.80" width="5.4" height="5.4" fill="#c8102e"/>
<rect x="319.30" y="370.30" width="5.4" height="5.4" fill="#c8102e"/>
<rect x="324.30" y="369.80" width="5.4" height="5.4" fill="#c8102e"/>
<rect x="312.80" y="372.50" width="5.4" height="5.4" fill="#c8102e"/>
<line x1="302.00" y1="374.90" x2="512.60" y2="374.90" stroke="#1a1a1a" stroke-width="1.2"/>
<line x1="302.50" y1="360.00" x2="302.50" y2="375.40" stroke="#1a1a1a" stroke-width="1.1"/>
<text x="139.75" y="438.75" font-size="10.8" fill="#000" stroke="#000" stroke-width="0.2" font-weight="bold">E</text>
<line x1="181.40" y1="445.00" x2="181.40" y2="587.10" stroke="#1a1a1a" stroke-width="1.1"/>
<line x1="177.20" y1="586.60" x2="181.40" y2="586.60" stroke="#1a1a1a" stroke-width="1"/>
<text x="174.60" y="589.50" font-size="7.7" fill="#1a1a1a" stroke="#1a1a1a" stroke-width="0.22" text-anchor="end">0</text>
<line x1="177.20" y1="541.00" x2="181.40" y2="541.00" stroke="#1a1a1a" stroke-width="1"/>
<text x="174.60" y="543.90" font-size="7.7" fill="#1a1a1a" stroke="#1a1a1a" stroke-width="0.22" text-anchor="end">200</text>
<line x1="177.20" y1="495.40" x2="181.40" y2="495.40" stroke="#1a1a1a" stroke-width="1"/>
<text x="174.60" y="498.30" font-size="7.7" fill="#1a1a1a" stroke="#1a1a1a" stroke-width="0.22" text-anchor="end">400</text>
<line x1="177.20" y1="449.80" x2="181.40" y2="449.80" stroke="#1a1a1a" stroke-width="1"/>
<text x="174.60" y="452.70" font-size="7.7" fill="#1a1a1a" stroke="#1a1a1a" stroke-width="0.22" text-anchor="end">600</text>
<line x1="180.90" y1="586.60" x2="392.10" y2="586.60" stroke="#1a1a1a" stroke-width="1.2"/>
<line x1="181.50" y1="586.60" x2="181.50" y2="590.60" stroke="#1a1a1a" stroke-width="1"/>
<text x="181.50" y="601.00" font-size="7.7" fill="#1a1a1a" stroke="#1a1a1a" stroke-width="0.22" text-anchor="middle">0</text>
<line x1="232.65" y1="586.60" x2="232.65" y2="590.60" stroke="#1a1a1a" stroke-width="1"/>
<text x="232.65" y="601.00" font-size="7.7" fill="#1a1a1a" stroke="#1a1a1a" stroke-width="0.22" text-anchor="middle">20</text>
<line x1="283.80" y1="586.60" x2="283.80" y2="590.60" stroke="#1a1a1a" stroke-width="1"/>
<text x="283.80" y="601.00" font-size="7.7" fill="#1a1a1a" stroke="#1a1a1a" stroke-width="0.22" text-anchor="middle">40</text>
<line x1="334.95" y1="586.60" x2="334.95" y2="590.60" stroke="#1a1a1a" stroke-width="1"/>
<text x="334.95" y="601.00" font-size="7.7" fill="#1a1a1a" stroke="#1a1a1a" stroke-width="0.22" text-anchor="middle">60</text>
<line x1="386.10" y1="586.60" x2="386.10" y2="590.60" stroke="#1a1a1a" stroke-width="1"/>
<text x="386.10" y="601.00" font-size="7.7" fill="#1a1a1a" stroke="#1a1a1a" stroke-width="0.22" text-anchor="middle">80</text>
<text x="154.40" y="516.40" font-size="9.6" fill="#1a1a1a" stroke="#1a1a1a" stroke-width="0.32" text-anchor="middle" textLength="62.3" lengthAdjust="spacingAndGlyphs" transform="rotate(-90 154.40 516.40)">Platelet count (10<tspan baseline-shift="super" font-size="5.5">9</tspan>/L)</text>
<text x="286.20" y="611.50" font-size="9.6" fill="#1a1a1a" stroke="#1a1a1a" stroke-width="0.32" text-anchor="middle" textLength="71.6" lengthAdjust="spacingAndGlyphs">Procoagulant platelet (%)</text>
<text x="264.10" y="441.90" font-size="8.75" fill="#1a1a1a" stroke="#1a1a1a" stroke-width="0.18">VITT confirmed</text>
<text x="392.00" y="461.90" font-size="7.05" fill="#1a1a1a" stroke="#1a1a1a" stroke-width="0.2" text-anchor="end">Spearman <tspan font-style="italic">r</tspan>=−0.386</text>
<text x="392.00" y="470.40" font-size="7.05" fill="#1a1a1a" stroke="#1a1a1a" stroke-width="0.2" text-anchor="end"><tspan font-style="italic">p</tspan>&lt;.0001</text>
<text x="392.00" y="478.80" font-size="7.05" fill="#1a1a1a" stroke="#1a1a1a" stroke-width="0.2" text-anchor="end"><tspan font-style="italic">n</tspan>=98</text>
<circle cx="227.90" cy="477.75" r="2.85" fill="#c8102e"/>
<circle cx="222.25" cy="508.50" r="2.85" fill="#c8102e"/>
<circle cx="187.20" cy="529.40" r="2.85" fill="#c8102e"/>
<circle cx="199.30" cy="536.00" r="2.85" fill="#c8102e"/>
<circle cx="216.30" cy="534.20" r="2.85" fill="#c8102e"/>
<circle cx="217.80" cy="542.30" r="2.85" fill="#c8102e"/>
<circle cx="231.40" cy="541.20" r="2.85" fill="#c8102e"/>
<circle cx="208.90" cy="547.80" r="2.85" fill="#c8102e"/>
<circle cx="228.20" cy="553.60" r="2.85" fill="#c8102e"/>
<circle cx="234.50" cy="554.80" r="2.85" fill="#c8102e"/>
<circle cx="215.20" cy="557.90" r="2.85" fill="#c8102e"/>
<circle cx="187.20" cy="548.70" r="2.85" fill="#c8102e"/>
<circle cx="185.20" cy="552.50" r="2.85" fill="#c8102e"/>
<circle cx="195.30" cy="546.30" r="2.85" fill="#c8102e"/>
<circle cx="211.50" cy="566.30" r="2.85" fill="#c8102e"/>
<circle cx="213.00" cy="566.30" r="2.85" fill="#c8102e"/>
<circle cx="223.00" cy="565.60" r="2.85" fill="#c8102e"/>
<circle cx="225.30" cy="571.40" r="2.85" fill="#c8102e"/>
<circle cx="231.10" cy="574.60" r="2.85" fill="#c8102e"/>
<circle cx="234.00" cy="577.50" r="2.85" fill="#c8102e"/>
<circle cx="235.70" cy="583.30" r="2.85" fill="#c8102e"/>
<circle cx="225.50" cy="581.00" r="2.85" fill="#c8102e"/>
<circle cx="220.50" cy="582.70" r="2.85" fill="#c8102e"/>
<circle cx="218.40" cy="576.30" r="2.85" fill="#c8102e"/>
<circle cx="212.60" cy="575.80" r="2.85" fill="#c8102e"/>
<circle cx="186.70" cy="568.30" r="2.85" fill="#c8102e"/>
<circle cx="187.20" cy="578.10" r="2.85" fill="#c8102e"/>
<circle cx="199.90" cy="548.10" r="2.85" fill="#c8102e"/>
<circle cx="204.00" cy="548.80" r="2.85" fill="#c8102e"/>
<circle cx="190.10" cy="552.70" r="2.85" fill="#c8102e"/>
<circle cx="195.30" cy="552.70" r="2.85" fill="#c8102e"/>
<circle cx="200.50" cy="552.70" r="2.85" fill="#c8102e"/>
<circle cx="205.10" cy="553.50" r="2.85" fill="#c8102e"/>
<circle cx="189.50" cy="557.30" r="2.85" fill="#c8102e"/>
<circle cx="195.30" cy="557.30" r="2.85" fill="#c8102e"/>
<circle cx="201.10" cy="557.30" r="2.85" fill="#c8102e"/>
<circle cx="204.50" cy="558.50" r="2.85" fill="#c8102e"/>
<circle cx="190.70" cy="561.90" r="2.85" fill="#c8102e"/>
<circle cx="197.00" cy="561.90" r="2.85" fill="#c8102e"/>
<circle cx="202.20" cy="561.90" r="2.85" fill="#c8102e"/>
<circle cx="205.70" cy="562.50" r="2.85" fill="#c8102e"/>
<circle cx="195.30" cy="565.40" r="2.85" fill="#c8102e"/>
<circle cx="201.10" cy="565.40" r="2.85" fill="#c8102e"/>
<circle cx="192.50" cy="555.00" r="2.85" fill="#c8102e"/>
<circle cx="198.00" cy="550.00" r="2.85" fill="#c8102e"/>
<circle cx="198.00" cy="555.00" r="2.85" fill="#c8102e"/>
<circle cx="198.00" cy="559.50" r="2.85" fill="#c8102e"/>
<circle cx="193.00" cy="559.50" r="2.85" fill="#c8102e"/>
<circle cx="203.00" cy="551.00" r="2.85" fill="#c8102e"/>
<circle cx="190.70" cy="568.80" r="2.85" fill="#c8102e"/>
<circle cx="201.10" cy="568.80" r="2.85" fill="#c8102e"/>
<circle cx="204.50" cy="569.50" r="2.85" fill="#c8102e"/>
<circle cx="189.50" cy="573.50" r="2.85" fill="#c8102e"/>
<circle cx="193.50" cy="575.00" r="2.85" fill="#c8102e"/>
<circle cx="200.50" cy="574.50" r="2.85" fill="#c8102e"/>
<circle cx="204.00" cy="573.50" r="2.85" fill="#c8102e"/>
<circle cx="206.30" cy="572.30" r="2.85" fill="#c8102e"/>
<circle cx="191.80" cy="577.50" r="2.85" fill="#c8102e"/>
<circle cx="196.50" cy="577.50" r="2.85" fill="#c8102e"/>
<circle cx="201.10" cy="577.50" r="2.85" fill="#c8102e"/>
<circle cx="205.70" cy="577.50" r="2.85" fill="#c8102e"/>
<circle cx="209.20" cy="577.50" r="2.85" fill="#c8102e"/>
<circle cx="197.60" cy="581.00" r="2.85" fill="#c8102e"/>
<circle cx="204.50" cy="581.00" r="2.85" fill="#c8102e"/>
<circle cx="193.00" cy="580.50" r="2.85" fill="#c8102e"/>
<circle cx="208.00" cy="581.50" r="2.85" fill="#c8102e"/>
<circle cx="241.25" cy="582.50" r="2.85" fill="#c8102e"/>
<circle cx="245.60" cy="582.50" r="2.85" fill="#c8102e"/>
<circle cx="240.60" cy="582.50" r="2.85" fill="#c8102e"/>
<circle cx="236.25" cy="583.75" r="2.85" fill="#c8102e"/>
<circle cx="235.60" cy="577.50" r="2.85" fill="#c8102e"/>
<circle cx="248.40" cy="548.50" r="2.85" fill="#c8102e"/>
<circle cx="260.60" cy="557.90" r="2.85" fill="#c8102e"/>
<circle cx="252.25" cy="561.60" r="2.85" fill="#c8102e"/>
<circle cx="253.50" cy="566.90" r="2.85" fill="#c8102e"/>
<circle cx="253.10" cy="571.00" r="2.85" fill="#c8102e"/>
<circle cx="257.50" cy="574.75" r="2.85" fill="#c8102e"/>
<circle cx="255.60" cy="577.25" r="2.85" fill="#c8102e"/>
<circle cx="262.75" cy="578.75" r="2.85" fill="#c8102e"/>
<circle cx="266.25" cy="582.75" r="2.85" fill="#c8102e"/>
<circle cx="271.25" cy="573.75" r="2.85" fill="#c8102e"/>
<circle cx="274.40" cy="576.00" r="2.85" fill="#c8102e"/>
<circle cx="283.75" cy="570.25" r="2.85" fill="#c8102e"/>
<circle cx="287.25" cy="578.75" r="2.85" fill="#c8102e"/>
<circle cx="287.50" cy="582.50" r="2.85" fill="#c8102e"/>
<circle cx="296.90" cy="583.75" r="2.85" fill="#c8102e"/>
<circle cx="319.00" cy="581.00" r="2.85" fill="#c8102e"/>
<circle cx="321.00" cy="581.90" r="2.85" fill="#c8102e"/>
<circle cx="327.10" cy="584.60" r="2.85" fill="#c8102e"/>
<circle cx="342.10" cy="584.80" r="2.85" fill="#c8102e"/>
<circle cx="347.30" cy="577.50" r="2.85" fill="#c8102e"/>
<circle cx="359.00" cy="572.30" r="2.85" fill="#c8102e"/>
<line x1="180.90" y1="586.60" x2="392.10" y2="586.60" stroke="#1a1a1a" stroke-width="1.2"/>
<line x1="181.40" y1="570.00" x2="181.40" y2="587.10" stroke="#1a1a1a" stroke-width="1.1"/>
<rect x="0" y="0" width="520" height="1.05" fill="#000"/>
<rect x="0" y="0" width="1.1" height="620" fill="#000"/>
<rect x="518.6" y="0" width="1.4" height="620" fill="#000"/>
<rect x="0" y="618.6" width="520" height="1.4" fill="#000"/>
</svg>
</body></html>
